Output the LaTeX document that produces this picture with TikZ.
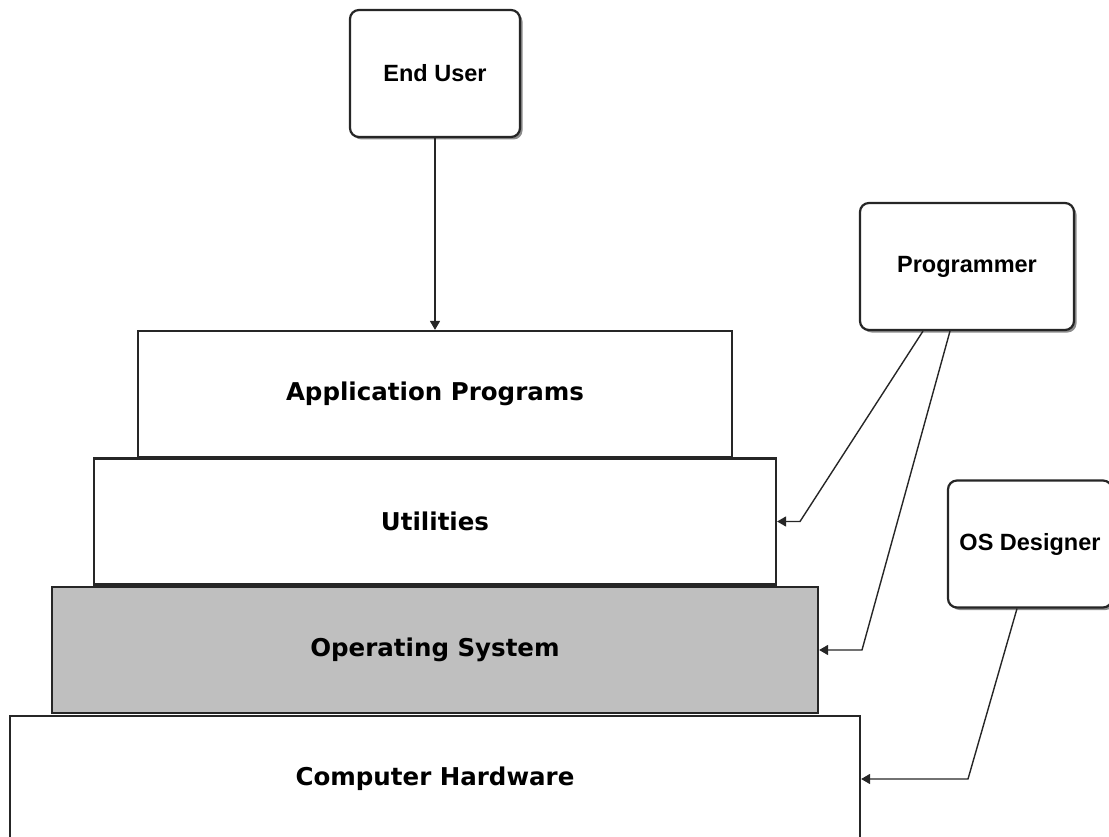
\documentclass[tikz,border=0pt]{standalone}
\usepackage{fontspec}
\setmainfont{Liberation Sans}
\newfontfamily\layerfont{DejaVu Sans}
\usetikzlibrary{arrows.meta,shadows}
\tikzset{
    layer/.style={draw=black!85, line width=2.2pt, minimum width=#1, minimum height=126pt,
        inner sep=0pt, font=\layerfont\bfseries\fontsize{24.5}{28}\selectfont},
    actor/.style={draw=black!85, line width=2.2pt, fill=white, rounded corners=9pt,
        minimum height=127pt, inner sep=0pt, font=\bfseries\fontsize{23.5}{27}\selectfont,
        drop shadow={shadow xshift=2.5pt, shadow yshift=-2.5pt, fill=black!45, opacity=1}},
    link/.style={draw=black!85, line width=1.4pt, -{Triangle[length=9pt,width=10pt]}}
}
\begin{document}
\begin{tikzpicture}[x=1pt, y=-1pt]
    \useasboundingbox (0,0) rectangle (1109,837);
    % the four layers
    \node[layer=594pt] (apps) at (435,394) {Application Programs};
    \node[layer=682pt] (utils) at (435,521.5) {Utilities};
    \node[layer=766pt, fill=black!25] (os) at (435,650) {Operating System};
    \node[layer=850pt] (hw) at (435,779) {Computer Hardware};
    % the users
    \node[actor, minimum width=170pt] (user) at (435,73.5) {End User};
    \node[actor, minimum width=214pt] (prog) at (967,266.5) {Programmer};
    \node[actor, minimum width=164pt] (osdes) at (1030,544) {OS Designer};
    \coordinate (b1) at (800,521.5);
    \coordinate (b2) at (862,650);
    \coordinate (b3) at (968,779);
    \draw[link] (user) -- (apps);
    \draw[link] ([xshift=-44pt]prog.south) -- (b1) -- (utils.east);
    \draw[link] ([xshift=-17pt]prog.south) -- (b2) -- (os.east);
    \draw[link] ([xshift=-13pt]osdes.south) -- (b3) -- (hw.east);
\end{tikzpicture}
\end{document}
